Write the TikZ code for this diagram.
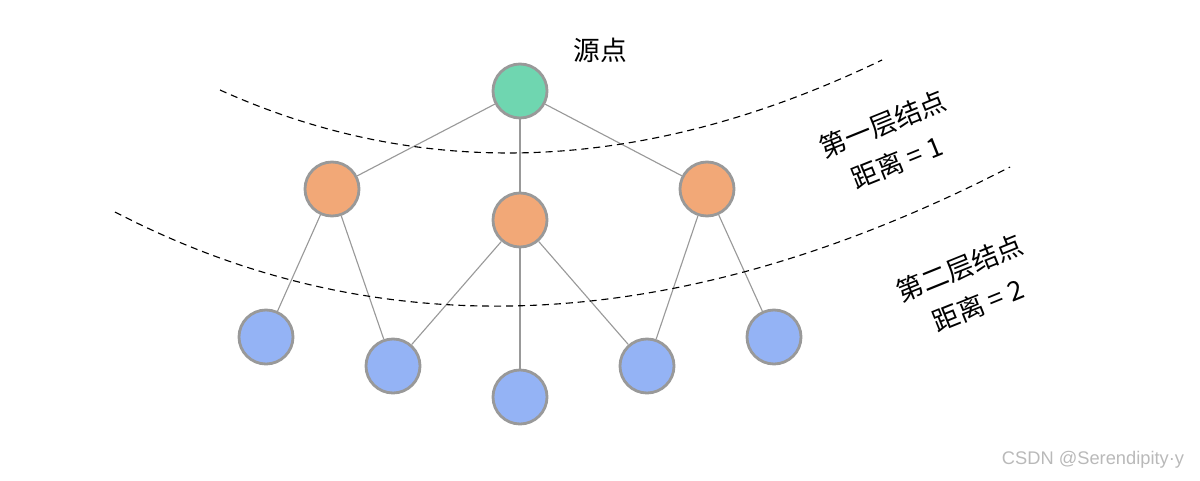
\documentclass[tikz,border=0pt]{standalone}
\usepackage{fontspec}
\setmainfont{Noto Sans CJK SC}
\newfontfamily\wmfont{Liberation Sans}
\begin{document}
\begin{tikzpicture}[x=0.025cm,y=-0.025cm,
  nd/.style={circle,draw=gray!80,line width=2pt,minimum size=1.35cm,inner sep=0pt},
  gr/.style={nd,fill={rgb,255:red,111;green,214;blue,176}},
  org/.style={nd,fill={rgb,255:red,242;green,168;blue,119}},
  bl/.style={nd,fill={rgb,255:red,148;green,179;blue,245}},
  ed/.style={draw=gray!80,line width=0.8pt},
  arc/.style={dash pattern=on 5pt off 3.5pt,line width=0.8pt},
  lab/.style={font=\fontsize{19}{21}\selectfont,rotate=22}]
\useasboundingbox (0,0) rectangle (1200,480);
\node[gr] (r) at (520,91) {};
\node[org] (a) at (332,189) {};
\node[org] (b) at (520,220) {};
\node[org] (c) at (707,189) {};
\node[bl] (p) at (266,337) {};
\node[bl] (q) at (393,366) {};
\node[bl] (s) at (520,397) {};
\node[bl] (t) at (647,366) {};
\node[bl] (u) at (774,337) {};
\foreach \x/\y in {r/a,r/b,r/c,a/p,a/q,b/q,b/s,b/t,c/t,c/u} \draw[ed] (\x) -- (\y);
\coordinate (s1) at (220,90); \coordinate (e1) at (882,60);
\coordinate (s2) at (115,212); \coordinate (e2) at (1010,167);
\draw[arc] (s1) .. controls (426,183) and (647,173) .. (e1);
\draw[arc] (s2) .. controls (383,351) and (681,336) .. (e2);
\node[font=\fontsize{19}{21}\selectfont] (t0) at (600,50) {源点};
\node[lab] (t1) at (883,124) {第一层结点};
\node[lab] (t2) at (897,162) {距离 = 1};
\node[lab] (t3) at (960,268) {第二层结点};
\node[lab] (t4) at (978,305) {距离 = 2};
\node[font=\wmfont\fontsize{13}{15}\selectfont,text=gray!55] (w) at (1093,460) {CSDN @Serendipity·y};
\end{tikzpicture}
\end{document}
